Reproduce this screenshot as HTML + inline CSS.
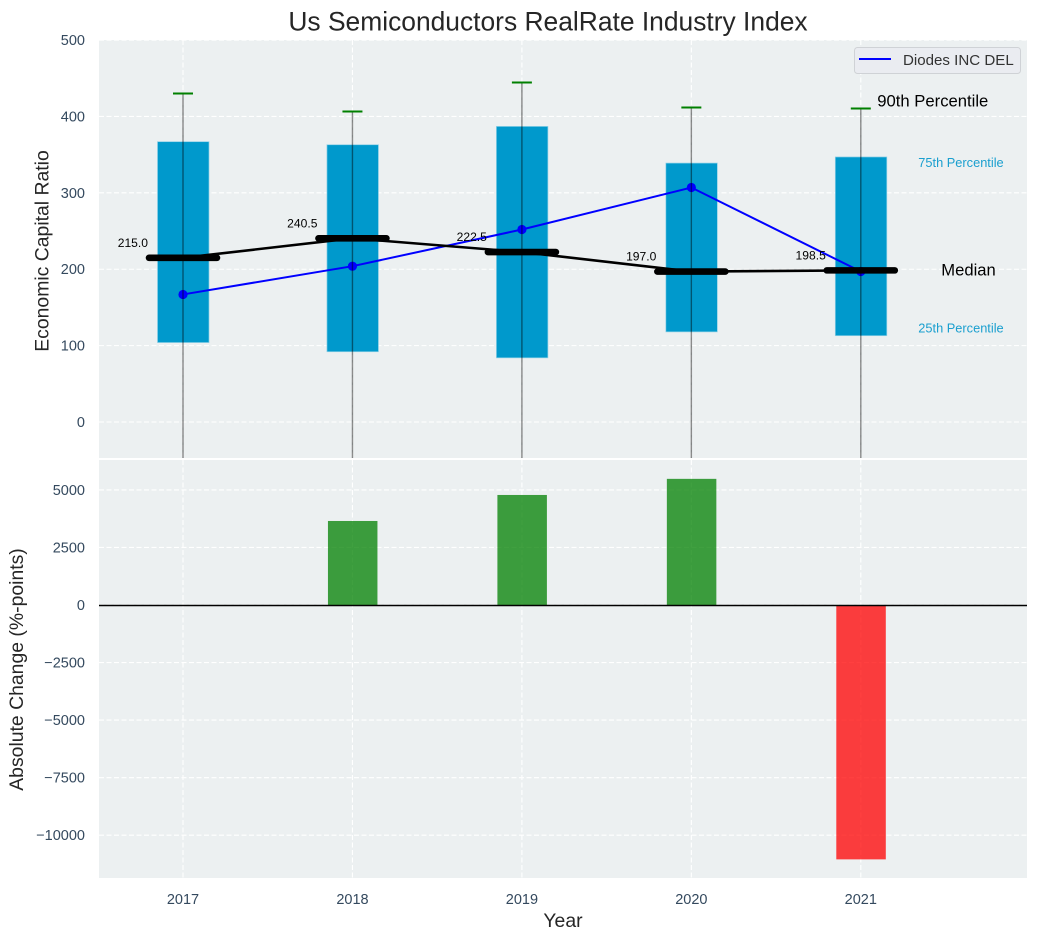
<!DOCTYPE html>
<html>
<head>
<meta charset="utf-8">
<title>Us Semiconductors RealRate Industry Index</title>
<style>
html,body{margin:0;padding:0;background:#fff;width:1038px;height:940px;overflow:hidden}
svg{display:block;font-family:"Liberation Sans",Arial,sans-serif}
</style>
</head>
<body>
<svg id="chart" xmlns="http://www.w3.org/2000/svg" width="1038" height="940" viewBox="0 0 1038 940">
  <defs>
    <clipPath id="top-clip"><rect x="99" y="40" width="928" height="418"/></clipPath>
    <clipPath id="bottom-clip"><rect x="99" y="460" width="928" height="418"/></clipPath>
  </defs>
  <rect x="99" y="40" width="928" height="418" fill="#ecf0f1"/>
  <rect x="99" y="460" width="928" height="418" fill="#ecf0f1"/>
  <g id="top-grid" clip-path="url(#top-clip)"></g>
  <g id="bottom-grid" clip-path="url(#bottom-clip)"></g>
  <g id="top-marks" clip-path="url(#top-clip)"></g>
  <g id="bottom-marks" clip-path="url(#bottom-clip)"></g>
  <g id="labels"></g>
  <g id="axes"></g>
  <text x="548" y="30.5" text-anchor="middle" font-size="26.4" fill="#262626">Us Semiconductors RealRate Industry Index</text>
  <text transform="translate(48.5,251) rotate(-90)" text-anchor="middle" font-size="19.4" fill="#262626">Economic Capital Ratio</text>
  <text transform="translate(23,669.5) rotate(-90)" text-anchor="middle" font-size="19.4" fill="#262626">Absolute Change (%-points)</text>
  <text x="563" y="927" text-anchor="middle" font-size="19.4" fill="#262626">Year</text>
  <g>
    <rect x="854.5" y="47.5" width="166" height="26" rx="3" fill="#eaecf1" stroke="#cfd2d6" stroke-width="1"/>
    <line x1="859" y1="59" x2="891" y2="59" stroke="#0000ff" stroke-width="2"/>
    <text x="903" y="65" font-size="15.1" fill="#333333">Diodes INC DEL</text>
  </g>
</svg>
<script>
const years = [2017, 2018, 2019, 2020, 2021];
const p90 = [429.5, 407, 445, 412, 410];
const p75 = [367, 363, 387, 339, 347];
const p50 = [215.0, 240.5, 222.5, 197.0, 198.5];
const p25 = [104, 92, 84, 118, 113];
const p10 = [-80, -80, -80, -80, -80];
const company = [167, 204, 252, 307, 197];
const changes = [null, 3650, 4780, 5480, -11050];
const topTicks = [0, 100, 200, 300, 400, 500];
const bottomTicks = [-10000, -7500, -5000, -2500, 0, 2500, 5000];

const NS = 'http://www.w3.org/2000/svg';
const TICK_SIZE = 14.5;
const sx = y => 183 + (y - 2017) * 169.45;
const syTop = v => 422 - v * 0.7638;
const syBot = v => 605 - v * 0.02302;
const crisp = p => Math.round(p - 0.5) + 0.5;
const tickText = v => String(v).replace('-', '\u2212');

function make(parent, tag, attrs, text) {
  const el = document.createElementNS(NS, tag);
  for (const k in attrs) el.setAttribute(k, attrs[k]);
  if (text !== undefined) el.textContent = text;
  parent.appendChild(el);
  return el;
}

const topGrid = document.getElementById('top-grid');
const bottomGrid = document.getElementById('bottom-grid');
const topMarks = document.getElementById('top-marks');
const bottomMarks = document.getElementById('bottom-marks');
const labels = document.getElementById('labels');
const axes = document.getElementById('axes');
const gridStyle = {stroke: '#ffffff', 'stroke-width': 1.1, 'stroke-dasharray': '5 2.5', fill: 'none'};

topTicks.forEach(t => {
  const y = syTop(t);
  const g = make(topGrid, 'line', Object.assign({x1: 99, x2: 1027, y1: y, y2: y}, gridStyle));
  
  
  const l = make(axes, 'text', {x: 85, y: y + 5, 'text-anchor': 'end', 'font-size': TICK_SIZE, fill: '#34495e'}, tickText(t));
  
  
});

bottomTicks.forEach(t => {
  const y = syBot(t);
  const g = make(bottomGrid, 'line', Object.assign({x1: 99, x2: 1027, y1: y, y2: y}, gridStyle));
  
  
  const l = make(axes, 'text', {x: 85, y: y + 5, 'text-anchor': 'end', 'font-size': TICK_SIZE, fill: '#34495e'}, tickText(t));
  
  
});

years.forEach(yr => {
  const x = sx(yr);
  const a = make(topGrid, 'line', Object.assign({x1: x, x2: x, y1: 40, y2: 458}, gridStyle));
  
  
  const b = make(bottomGrid, 'line', Object.assign({x1: x, x2: x, y1: 460, y2: 878}, gridStyle));
  
  
  const l = make(axes, 'text', {x: x, y: 904, 'text-anchor': 'middle', 'font-size': TICK_SIZE, fill: '#34495e'}, String(yr));
  
  
});

/* interquartile boxes */
years.forEach((yr, i) => {
  const r = make(topMarks, 'rect', {
    x: sx(yr) - 25.5, y: syTop(p75[i]), width: 51.5, height: syTop(p25[i]) - syTop(p75[i]),
    fill: '#0099cc', stroke: '#8fd0e6', 'stroke-width': 0.7
  });
  
  
});

/* company series */
const companyLine = make(topMarks, 'polyline', {
  points: years.map((yr, i) => sx(yr) + ',' + syTop(company[i])).join(' '),
  fill: 'none', stroke: '#0000ff', 'stroke-width': 2
});


years.forEach((yr, i) => {
  const c = make(topMarks, 'circle', {cx: sx(yr), cy: syTop(company[i]), r: 4.6, fill: '#0000ff'});
  
  
});

/* whiskers and 90th percentile caps */
years.forEach((yr, i) => {
  const x = sx(yr);
  const w = make(topMarks, 'line', {x1: x, x2: x, y1: syTop(p90[i]), y2: syTop(p10[i]), stroke: '#000000', 'stroke-opacity': 0.45, 'stroke-width': 1.4});
  
  
  const capY = crisp(syTop(p90[i]));
  const c = make(topMarks, 'line', {x1: x - 10, x2: x + 10, y1: capY, y2: capY, stroke: '#008000', 'stroke-width': 2});
  
  
});

/* median trend and median bars */
const medianLine = make(topMarks, 'polyline', {
  points: years.map((yr, i) => sx(yr) + ',' + syTop(p50[i])).join(' '),
  fill: 'none', stroke: '#000000', 'stroke-width': 2.6
});


years.forEach((yr, i) => {
  const x = sx(yr);
  const y = syTop(p50[i]);
  const m = make(topMarks, 'line', {x1: x - 34, x2: x + 34, y1: y, y2: y, stroke: '#000000', 'stroke-width': 6.6, 'stroke-linecap': 'round'});
  
  
  const t = make(labels, 'text', {x: x - 35, y: y - 11, 'text-anchor': 'end', 'font-size': 12.1, fill: '#000000'}, p50[i].toFixed(1));
  
  
});

/* side annotations tied to the last year */
const last = years.length - 1;
const lastX = sx(years[last]);
const t90 = make(labels, 'text', {x: lastX + 16.5, y: syTop(p90[last]) - 2.5, 'font-size': 16.65, fill: '#000000'}, '90th Percentile');


const t75 = make(labels, 'text', {x: lastX + 57.5, y: syTop(p75[last]) + 10, 'font-size': 12.8, fill: '#1a9fcf'}, '75th Percentile');


const tMed = make(labels, 'text', {x: lastX + 80.5, y: syTop(p50[last]) + 5, 'font-size': 16.6, fill: '#000000'}, 'Median');


const t25 = make(labels, 'text', {x: lastX + 57.5, y: syTop(p25[last]) - 3, 'font-size': 12.8, fill: '#1a9fcf'}, '25th Percentile');



/* absolute change bars */
years.forEach((yr, i) => {
  const v = changes[i];
  if (v === null) return;
  const top = syBot(Math.max(v, 0));
  const bot = syBot(Math.min(v, 0));
  const b = make(bottomMarks, 'rect', {
    x: sx(yr) - 24.5, y: top, width: 49.5, height: bot - top,
    fill: v >= 0 ? '#008000' : '#ff0000', 'fill-opacity': 0.75
  });
  
  
});
const zeroY = crisp(syBot(0));
const zero = make(bottomMarks, 'line', {x1: 99, x2: 1027, y1: zeroY, y2: zeroY, stroke: '#000000', 'stroke-width': 1.4});


</script>
</body>
</html>
